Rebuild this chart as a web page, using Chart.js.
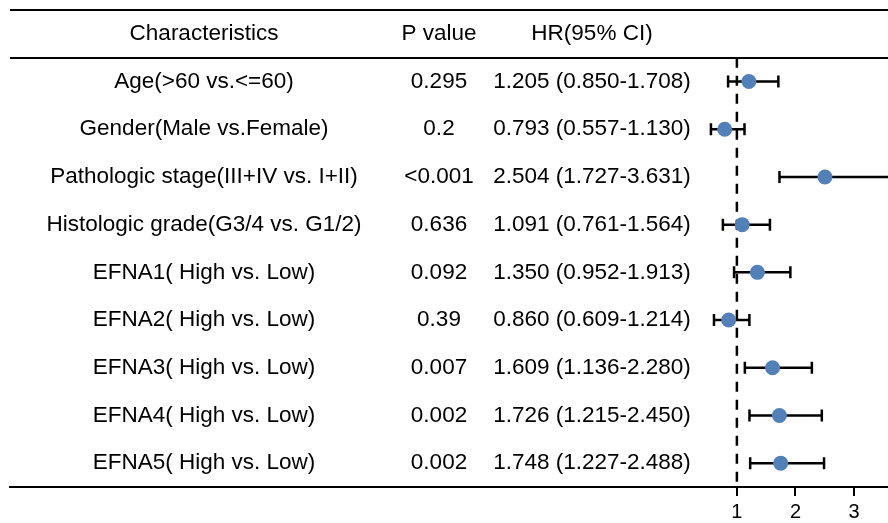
<!DOCTYPE html>
<html>
<head>
<meta charset="utf-8">
<script src="https://cdn.jsdelivr.net/npm/chart.js@4"></script>
<style>
  html, body { margin: 0; padding: 0; background: #fff; }
  #wrap { width: 888px; height: 523px; position: relative; }
</style>
</head>
<body>
<div id="wrap"><canvas id="forest"></canvas></div>
<script>
// data
const characteristics = [
    'Age(>60 vs.<=60)',
    'Gender(Male vs.Female)',
    'Pathologic stage(III+IV vs. I+II)',
    'Histologic grade(G3/4 vs. G1/2)',
    'EFNA1( High vs. Low)',
    'EFNA2( High vs. Low)',
    'EFNA3( High vs. Low)',
    'EFNA4( High vs. Low)',
    'EFNA5( High vs. Low)'
];
const pValues = ['0.295', '0.2', '<0.001', '0.636', '0.092', '0.39', '0.007', '0.002', '0.002'];
const hr = [1.205, 0.793, 2.504, 1.091, 1.350, 0.860, 1.609, 1.726, 1.748];
const hrLow = [0.850, 0.557, 1.727, 0.761, 0.952, 0.609, 1.136, 1.215, 1.227];
const hrHigh = [1.708, 1.130, 3.631, 1.564, 1.913, 1.214, 2.280, 2.450, 2.488];
const xTicks = [1, 2, 3];
const refLine = 1;

const FONT = '"Liberation Sans", Arial, Helvetica, sans-serif';

// table text + horizontal rules + error bars
const forestPlugin = {
    id: 'forest',
    beforeDatasetsDraw(chart) {
        const { ctx, chartArea, scales: { x, y } } = chart;
        ctx.save();

        // rules at top and under header
        ctx.strokeStyle = '#000';
        ctx.lineWidth = 2;
        [-1.5, -0.5].forEach(v => {
            const py = Math.round(y.getPixelForValue(v));
            ctx.beginPath();
            ctx.moveTo(chartArea.left, py);
            ctx.lineTo(chartArea.right, py);
            ctx.stroke();
        });

        // header
        ctx.fillStyle = '#000';
        ctx.font = '22.5px ' + FONT;
        ctx.textAlign = 'center';
        ctx.textBaseline = 'middle';
        const hy = y.getPixelForValue(-1);
        ctx.fillText('Characteristics', 204, hy);
        ctx.fillText('P value', 439, hy);
        ctx.fillText('HR(95% CI)', 592, hy);

        // rows
        characteristics.forEach((name, i) => {
            const py = y.getPixelForValue(i);
            ctx.fillText(name, 204, py);
            ctx.fillText(pValues[i], 439, py);
            ctx.fillText(`${hr[i].toFixed(3)} (${hrLow[i].toFixed(3)}-${hrHigh[i].toFixed(3)})`, 592, py);
        });

        // error bars with caps
        ctx.beginPath();
        ctx.rect(chartArea.left, chartArea.top, chartArea.right - chartArea.left, chartArea.bottom - chartArea.top);
        ctx.clip();
        ctx.lineWidth = 2.5;
        hr.forEach((v, i) => {
            const py = y.getPixelForValue(i);
            const x1 = x.getPixelForValue(hrLow[i]);
            const x2 = x.getPixelForValue(hrHigh[i]);
            ctx.beginPath();
            ctx.moveTo(x1, py);
            ctx.lineTo(x2, py);
            ctx.moveTo(x1, py - 6);
            ctx.lineTo(x1, py + 6);
            ctx.moveTo(x2, py - 6);
            ctx.lineTo(x2, py + 6);
            ctx.stroke();
        });
        ctx.restore();
    }
};

const ctx = document.getElementById('forest').getContext('2d');
const forestChart = new Chart(ctx, {
    type: 'scatter',
    data: {
        datasets: [
            {
                label: 'HR',
                data: hr.map((v, i) => ({ x: v, y: i })),
                backgroundColor: '#5181B8',
                borderWidth: 0,
                pointRadius: 7.5,
                pointHoverRadius: 7.5
            },
            {
                label: 'ref',
                type: 'line',
                data: [{ x: refLine, y: -0.5 }, { x: refLine, y: 8.5 }],
                borderColor: '#000',
                borderWidth: 2.5,
                borderDash: [10, 8],
                pointRadius: 0,
                fill: false
            }
        ]
    },
    options: {
        responsive: true,
        maintainAspectRatio: false,
        animation: false,
        layout: { autoPadding: false, padding: { left: 10, top: 10, right: 0, bottom: 0 } },
        scales: {
            x: {
                type: 'linear',
                min: -11.41,
                max: 3.58,
                afterBuildTicks: scale => { scale.ticks = xTicks.map(v => ({ value: v })); },
                afterFit: scale => {
                    scale.height = 36;
                    scale.paddingLeft = 0;
                    scale.paddingRight = 0;
                },
                grid: { display: true, drawOnChartArea: false, drawTicks: true, tickLength: 9, color: '#000', lineWidth: 2 },
                border: { display: true, color: '#000', width: 2 },
                ticks: { color: '#000', padding: 4, font: { family: FONT, size: 20 }, maxRotation: 0, autoSkip: false }
            },
            y: {
                type: 'linear',
                display: false,
                reverse: true,
                min: -1.5,
                max: 8.5
            }
        },
        plugins: {
            legend: { display: false },
            tooltip: { enabled: false }
        }
    },
    plugins: [forestPlugin]
});
</script>
</body>
</html>
